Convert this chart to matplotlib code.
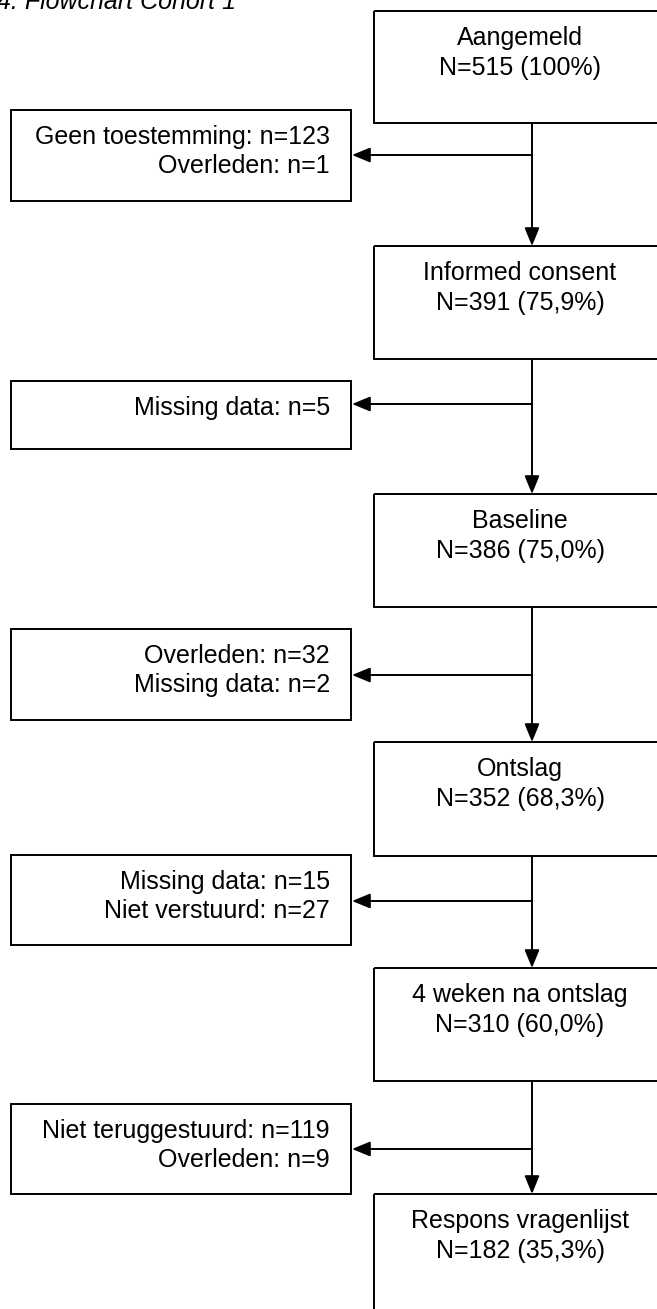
import matplotlib
matplotlib.use("Agg")
import matplotlib.pyplot as plt
from matplotlib.patches import Rectangle

plt.rcParams['font.family'] = ['Liberation Sans', 'DejaVu Sans']

title = "4. Flowchart Cohort 1"
stages = ["Aangemeld", "Informed consent", "Baseline", "Ontslag",
          "4 weken na ontslag", "Respons vragenlijst"]
n_values = [515, 391, 386, 352, 310, 182]
pct_labels = ["100%", "75,9%", "75,0%", "68,3%", "60,0%", "35,3%"]
exclusions = [
    ["Geen toestemming: n=123", "Overleden: n=1"],
    ["Missing data: n=5"],
    ["Overleden: n=32", "Missing data: n=2"],
    ["Missing data: n=15", "Niet verstuurd: n=27"],
    ["Niet teruggestuurd: n=119", "Overleden: n=9"],
]

# Layout (pixels, y downwards)
W, H = 657, 1309
main_x0, main_x1 = 374, 666
main_top = [11, 246, 494, 742, 968, 1194]
main_h = [112, 113, 113, 114, 113, 140]
side_x0, side_x1 = 11, 351
side_top = [110, 381, 629, 855, 1104]
side_bot = [201, 449, 720, 945, 1194]
branch_y = [155, 404, 675, 901, 1149]
line_x = 532
lw = 1.4
fs = 18

fig = plt.figure(figsize=(W / 100, H / 100), dpi=100)
ax = fig.add_axes([0, 0, 1, 1])
ax.set_xlim(0, W)
ax.set_ylim(H, 0)
ax.axis('off')

arrow = dict(arrowstyle='-|>,head_length=1.1,head_width=0.45', lw=lw,
             color='black', shrinkA=0, shrinkB=0, mutation_scale=10)

# main boxes
for i, (name, n, pct) in enumerate(zip(stages, n_values, pct_labels)):
    top = main_top[i]
    ax.add_patch(Rectangle((main_x0, top), main_x1 - main_x0, main_h[i],
                           fill=False, ec='black', lw=lw))
    cx = (main_x0 + main_x1) / 2
    ax.text(cx, top + 34, name, ha='center', va='baseline', fontsize=fs)
    ax.text(cx, top + 64, f"N={n} ({pct})", ha='center', va='baseline', fontsize=fs)

# exclusion boxes, connectors
for i, lines in enumerate(exclusions):
    top = side_top[i]
    ax.add_patch(Rectangle((side_x0, top), side_x1 - side_x0, side_bot[i] - top,
                           fill=False, ec='black', lw=lw))
    for j, s in enumerate(lines):
        ax.text(side_x1 - 21, top + 34 + j * 29, s, ha='right', va='baseline', fontsize=fs)
    y0 = main_top[i] + main_h[i]
    ax.annotate('', xy=(line_x, main_top[i + 1]), xytext=(line_x, y0), arrowprops=arrow)
    ax.annotate('', xy=(side_x1 + 1, branch_y[i]), xytext=(line_x, branch_y[i]),
                arrowprops=arrow)

ax.text(-3, 9, title, ha='left', va='baseline', fontsize=fs, style='italic')

fig.savefig("out.png", dpi=100)
